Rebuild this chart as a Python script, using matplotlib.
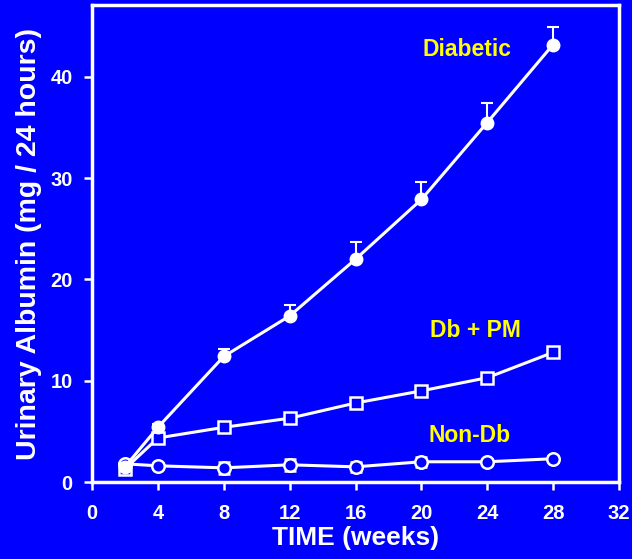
import matplotlib.pyplot as plt

plt.rcParams['font.family'] = ['Liberation Sans', 'DejaVu Sans']
plt.rcParams['font.weight'] = 'bold'
plt.rcParams['axes.labelweight'] = 'bold'

weeks = [2, 4, 8, 12, 16, 20, 24, 28]

# urinary albumin, mg / 24 h
diabetic = [1.5, 5.4, 12.4, 16.4, 22.0, 27.9, 35.5, 43.2]
diabetic_err = [0.0, 0.3, 0.7, 1.1, 1.7, 1.7, 1.9, 1.7]
db_pm = [1.3, 4.35, 5.4, 6.3, 7.8, 9.0, 10.3, 12.8]
non_db = [1.8, 1.6, 1.4, 1.7, 1.5, 2.0, 2.0, 2.3]
non_db_err = [0.2, 0.2, 0.6, 0.6, 0.5, 0.5, 0.3, 0.3]

xticks = [0, 4, 8, 12, 16, 20, 24, 28, 32]
yticks = [0, 10, 20, 30, 40]

bg = '#0000ff'
fg = 'white'
lab = '#ffff00'

fig = plt.figure(figsize=(6.32, 5.59), dpi=100, facecolor=bg)
ax = fig.add_axes([0.1456, 0.1377, 0.8338, 0.8533], facecolor=bg)

lw = 2.2
ax.errorbar(weeks, non_db, yerr=non_db_err, color=fg, lw=lw, marker='o',
            ms=9, mfc=bg, mec=fg, mew=1.8, capsize=4, elinewidth=1.5, capthick=1.5,
            zorder=3)
ax.errorbar(weeks, db_pm, color=fg, lw=lw, marker='s', ms=8.5, mfc=bg, mec=fg,
            mew=1.8, zorder=4)
ax.errorbar(weeks, diabetic, yerr=[[0] * len(diabetic), diabetic_err], color=fg,
            lw=lw, marker='o', ms=9, mfc=fg, mec=fg, capsize=4, elinewidth=1.5,
            capthick=1.5, zorder=5)

ax.text(22.8, 42.7, 'Diabetic', color=lab, fontsize=16.5, ha='center', va='center')
ax.text(23.3, 15.0, 'Db + PM', color=lab, fontsize=16.5, ha='center', va='center')
ax.text(22.9, 4.6, 'Non-Db', color=lab, fontsize=16.5, ha='center', va='center')

ax.set_xlim(0, 32)
ax.set_ylim(0, 47.1)
ax.set_xticks(xticks)
ax.set_yticks(yticks)

for s in ax.spines.values():
    s.set_color(fg)
    s.set_linewidth(2.5)
ax.tick_params(colors=fg, labelsize=14.5, width=1.8, length=6, direction='out')
ax.tick_params(axis='x', pad=10)
ax.tick_params(axis='y', pad=8)

ax.set_xlabel('TIME (weeks)', color=fg, fontsize=19, labelpad=2)
ax.set_ylabel('Urinary Albumin (mg / 24 hours)', color=fg, fontsize=20.5, labelpad=6)

fig.savefig('out.png', dpi=100, facecolor=bg)
